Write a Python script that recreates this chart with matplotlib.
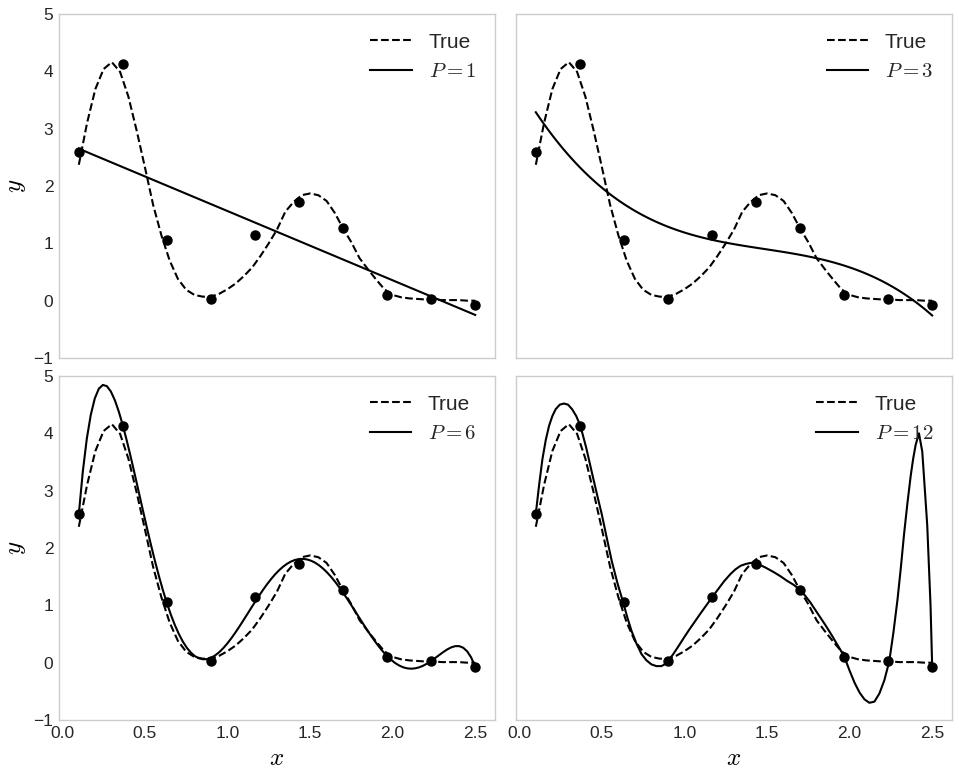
import numpy as np
import matplotlib.pyplot as plt

# ── DATA ───────────────────────────────────────────────────────
# noisy samples
x_data = [0.1, 0.367, 0.633, 0.9, 1.167, 1.433, 1.7, 1.967, 2.233, 2.5]
y_data = [2.59, 4.13, 1.06, 0.03, 1.15, 1.72, 1.27, 0.10, 0.03, -0.07]

# true curve
x_true = [0.10, 0.15, 0.20, 0.25, 0.30, 0.35, 0.40, 0.45, 0.50, 0.55,
          0.60, 0.65, 0.70, 0.75, 0.80, 0.85, 0.90, 0.95, 1.00, 1.05,
          1.10, 1.15, 1.20, 1.25, 1.30, 1.35, 1.40, 1.45, 1.50, 1.55,
          1.60, 1.65, 1.70, 1.75, 1.80, 1.85, 1.90, 1.95, 2.00, 2.05,
          2.10, 2.15, 2.20, 2.25, 2.30, 2.35, 2.40, 2.45, 2.50]
y_true = [2.37, 3.10, 3.69, 4.04, 4.16, 3.99, 3.56, 2.97, 2.33, 1.67,
          1.14, 0.70, 0.38, 0.19, 0.10, 0.07, 0.07, 0.12, 0.20, 0.30,
          0.43, 0.58, 0.78, 1.00, 1.24, 1.55, 1.72, 1.84, 1.87, 1.84,
          1.74, 1.53, 1.26, 1.02, 0.74, 0.55, 0.37, 0.20, 0.10, 0.06,
          0.04, 0.03, 0.02, 0.02, 0.01, 0.01, 0.01, 0.00, 0.00]

# P = 12 curve (over-parameterised)
x_p12 = [0.10, 0.12, 0.14, 0.16, 0.18, 0.20, 0.22, 0.245, 0.27, 0.295,
         0.32, 0.345, 0.37, 0.405, 0.44, 0.47, 0.50, 0.53, 0.56, 0.595,
         0.63, 0.655, 0.68, 0.71, 0.74, 0.77, 0.80, 0.83, 0.86, 0.88,
         0.90, 0.93, 0.96, 1.00, 1.03, 1.10, 1.17, 1.24, 1.28, 1.31,
         1.34, 1.37, 1.40, 1.43, 1.46, 1.49, 1.54, 1.58, 1.62, 1.66,
         1.70, 1.73, 1.76, 1.79, 1.82, 1.85, 1.87, 1.90, 1.92, 1.945,
         1.97, 2.00, 2.03, 2.06, 2.09, 2.12, 2.15, 2.18, 2.21, 2.24,
         2.265, 2.29, 2.31, 2.33, 2.35, 2.37, 2.385, 2.40, 2.42, 2.44,
         2.47, 2.49, 2.50]
y_p12 = [2.60, 3.10, 3.55, 3.88, 4.13, 4.30, 4.42, 4.50, 4.52, 4.50,
         4.42, 4.30, 4.13, 3.75, 3.31, 2.94, 2.58, 2.17, 1.77, 1.38,
         1.04, 0.78, 0.55, 0.33, 0.15, 0.04, -0.03, -0.06, -0.06, -0.03,
         0.03, 0.14, 0.27, 0.45, 0.58, 0.87, 1.15, 1.42, 1.55, 1.63,
         1.69, 1.72, 1.74, 1.73, 1.70, 1.66, 1.58, 1.51, 1.43, 1.36,
         1.27, 1.17, 1.06, 0.93, 0.80, 0.67, 0.58, 0.44, 0.34, 0.22,
         0.09, -0.14, -0.35, -0.52, -0.64, -0.70, -0.68, -0.54, -0.31, 0.02,
         0.52, 1.10, 1.65, 2.25, 2.78, 3.26, 3.56, 3.80, 4.00, 3.68,
         2.40, 1.00, -0.07]

orders = [1, 3, 6, 12]

# ── STYLE ──────────────────────────────────────────────────────
plt.rcParams["font.family"] = ["Liberation Sans", "DejaVu Sans"]
plt.rcParams["mathtext.fontset"] = "cm"
plt.rcParams["text.color"] = "#262626"
plt.rcParams["xtick.color"] = "#262626"
plt.rcParams["ytick.color"] = "#262626"

fig = plt.figure(figsize=(9.59, 7.76), dpi=100)
W, H = 959, 776
boxes = [(59, 14), (516, 14), (59, 376), (516, 376)]
axes = []
for (l, t) in boxes:
    ax = fig.add_axes([l / W, 1 - (t + 344) / H, 436 / W, 344 / H])
    axes.append(ax)

xd = np.array(x_data)
x_fit = np.linspace(xd.min(), xd.max(), 100)

for i, (ax, P) in enumerate(zip(axes, orders)):
    ax.plot(x_true, y_true, "k--", lw=1.5, label="True")
    if P < len(x_data):
        coef = np.polyfit(x_data, y_data, P)
        ax.plot(x_fit, np.polyval(coef, x_fit), "k-", lw=1.5, label=f"$P = {P}$")
    else:
        ax.plot(x_p12, y_p12, "k-", lw=1.5, label=f"$P = {P}$")
    ax.plot(x_data, y_data, "ko", ms=6.5)
    ax.set_ylim(-1, 5)
    ax.margins(x=0.05)
    for s in ax.spines.values():
        s.set_color("#cccccc")
        s.set_linewidth(1.0)
    ax.tick_params(length=0, labelsize=12.5, pad=4)
    ax.set_xticks([0.0, 0.5, 1.0, 1.5, 2.0, 2.5])
    ax.set_yticks(range(-1, 6))
    ax.legend(loc="upper right", frameon=False, fontsize=15)
    if i % 2 == 0:
        ax.set_ylabel("$y$", fontsize=18)
    else:
        ax.set_yticklabels([])
    if i >= 2:
        ax.set_xlabel("$x$", fontsize=18)
    else:
        ax.set_xticklabels([])

fig.savefig("out.png", dpi=100)
